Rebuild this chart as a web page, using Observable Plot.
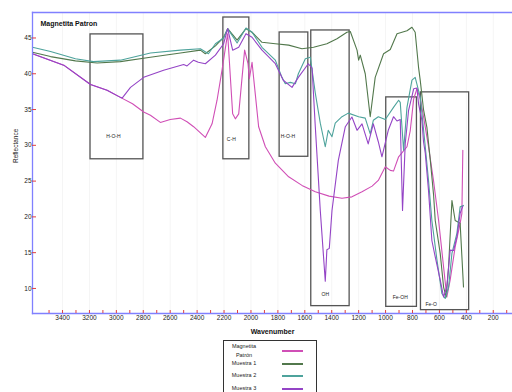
<!DOCTYPE html>
<html><head><meta charset="utf-8">
<script src="https://cdn.jsdelivr.net/npm/d3@7"></script>
<script src="https://cdn.jsdelivr.net/npm/@observablehq/plot@0.6"></script>
<style>
body{margin:0;background:#fff;font-family:"Liberation Sans",Arial,sans-serif;}
#wrap{position:relative;width:512px;height:392px;overflow:hidden;}
#legend{position:absolute;left:223px;top:340px;width:94px;height:62px;border:1.5px solid #333;box-sizing:border-box;font-size:5.5px;color:#222;background:#fff;}
#legend .lab{position:absolute;left:2px;width:36px;text-align:center;line-height:9px;}
#legend .sw{position:absolute;left:58px;width:21px;height:2px;}
</style></head><body><div id="wrap"></div>
<script>
// ---- data ----
const seriesNames = ["Magnetita Patrón", "Muestra 1", "Muestra 2", "Muestra 3"];
const seriesColors = ["#d04fb6", "#52784c", "#4ea39c", "#9444c6"];

const patron = [[3623,42.8],[3391,41.2],[3192,38.5],[3069,37.7],[2970,36.7],[2880,35.8],[2797,34.65],[2747,34.2],[2673,33.2],[2600,33.6],[2524,33.8],[2475,33.3],[2426,32.6],[2339,31.1],[2289,33.0],[2252,36.3],[2215,40.5],[2185,44.2],[2173,45.6],[2153,39.5],[2136,34.4],[2116,33.7],[2091,34.4],[2066,39.5],[2047,43.3],[2022,41.4],[2012,39.3],[1992,41.6],[1973,38.1],[1943,32.6],[1893,29.8],[1819,27.5],[1720,25.6],[1621,24.4],[1522,23.5],[1420,22.9],[1324,22.6],[1250,22.8],[1175,23.5],[1100,24.3],[1054,25.1],[1002,27.0],[965,26.5],[941,26.4],[903,28.4],[841,29.8],[817,32.0],[791,36.5],[767,37.9],[742,36.5],[718,34.0],[681,29.8],[644,25.1],[606,19.5],[569,13.0],[545,8.8],[520,11.2],[483,15.8],[446,19.1],[433,20.5],[426,29.3]];

const muestra1 = [[3623,43.0],[3489,42.4],[3304,41.8],[3143,41.5],[2970,41.7],[2747,42.3],[2524,42.9],[2376,43.3],[2339,42.8],[2264,43.9],[2203,45.1],[2173,46.3],[2103,44.7],[2037,46.3],[1992,45.8],[1918,44.4],[1819,44.2],[1720,44.0],[1621,43.5],[1535,43.7],[1436,44.2],[1361,44.9],[1287,45.8],[1262,45.9],[1212,43.3],[1200,41.9],[1188,42.6],[1151,40.0],[1114,34.0],[1077,39.5],[1015,42.8],[965,43.4],[915,45.6],[841,46.0],[804,46.5],[780,45.8],[755,40.9],[742,39.0],[718,35.0],[693,32.5],[668,28.0],[643,23.0],[631,19.5],[594,14.9],[569,10.2],[550,8.8],[532,13.0],[507,22.3],[483,19.5],[446,19.1],[421,10.2]];

const muestra2 = [[3623,43.7],[3489,43.1],[3304,42.1],[3170,41.7],[2970,41.9],[2747,42.9],[2524,43.3],[2376,43.5],[2316,42.8],[2264,44.2],[2203,45.0],[2173,46.3],[2103,44.3],[2037,46.4],[1992,45.8],[1918,43.7],[1819,41.9],[1770,39.5],[1745,38.6],[1708,38.8],[1670,38.6],[1648,40.0],[1596,42.1],[1559,42.3],[1522,37.3],[1485,33.1],[1448,29.8],[1426,32.1],[1398,31.2],[1374,33.1],[1324,34.0],[1277,34.5],[1200,34.0],[1151,33.8],[1114,31.6],[1091,33.5],[1054,34.0],[1002,33.6],[941,35.3],[903,36.3],[891,36.0],[866,29.3],[841,35.3],[804,39.1],[780,39.5],[742,36.7],[730,34.5],[705,29.8],[681,25.1],[656,19.5],[618,13.95],[582,9.3],[557,8.6],[532,10.2],[507,14.9],[470,17.7],[446,21.4],[421,21.6]];

const muestra3 = [[3623,42.8],[3391,41.2],[3192,38.5],[3069,37.7],[2970,36.7],[2957,36.6],[2895,38.1],[2797,39.5],[2649,40.5],[2500,41.3],[2475,41.1],[2426,41.9],[2391,41.6],[2339,41.4],[2264,42.6],[2203,44.2],[2173,46.3],[2136,43.3],[2091,43.7],[2037,45.6],[1992,45.1],[1918,43.3],[1819,41.4],[1760,39.1],[1695,38.1],[1648,39.5],[1574,41.4],[1546,40.8],[1522,32.6],[1485,20.9],[1448,11.0],[1436,15.4],[1418,15.6],[1398,20.9],[1351,27.9],[1299,32.6],[1250,33.95],[1212,32.1],[1175,33.0],[1129,30.2],[1091,33.0],[1054,30.5],[1027,28.4],[980,32.1],[941,34.0],[915,33.4],[891,33.6],[874,20.9],[854,30.2],[829,34.9],[791,37.9],[767,38.0],[755,35.8],[730,33.5],[718,30.5],[705,28.9],[681,23.7],[656,16.7],[631,14.4],[594,11.2],[569,8.8],[545,10.2],[520,15.35],[495,15.3],[470,17.2],[446,20.5],[426,21.5]];

const seriesData = [patron, muestra1, muestra2, muestra3];

// band annotation boxes (wavenumber / reflectance)
const boxNames  = ["H-O-H", "C-H", "H-O-H", "OH", "Fe-OH", "Fe-O"];
const boxWaveHi = [3192, 2205, 1787, 1552, 995, 737];
const boxWaveLo = [2799, 2012, 1574, 1267, 767, 379];
const boxReflHi = [45.5, 47.86, 45.77, 46.05, 36.7, 37.4];
const boxReflLo = [28.05, 28.05, 28.4, 7.53, 7.43, 6.97];
const boxLabelWave = [3022, 2146, 1725, 1448, 891, 661];
const boxLabelRefl = [31.26, 30.84, 31.26, 9.21, 8.79, 7.81];

const yTicks = [10, 15, 20, 25, 30, 35, 40, 45];
const xLabelTicks = [3400, 3200, 3000, 2800, 2600, 2400, 2200, 2000, 1800, 1600, 1400, 1200, 1000, 800, 600, 400, 200];
const xMinorTicks = [3500,3400,3300,3200,3100,3000,2900,2800,2700,2600,2500,2400,2300,2200,2100,2000,1900,1800,1700,1600,1500,1400,1300,1200,1100,1000,900,800,700,600,500,400,300,200,100];

const title = "Magnetita Patron";
const xTitle = "Wavenumber";
const yTitle = "Reflectance";

// ---- build tables ----
const rows = [];
seriesData.forEach((s, i) => s.forEach(([w, r]) => rows.push({series: seriesNames[i], wave: w, refl: r})));
const boxes = boxNames.map((n, i) => ({name: n, x1: boxWaveHi[i], x2: boxWaveLo[i], y1: boxReflLo[i], y2: boxReflHi[i], lx: boxLabelWave[i], ly: boxLabelRefl[i]}));

const red = "#e04040", blue = "#8080ff";
const chart = Plot.plot({
  width: 512, height: 336,
  marginLeft: 32, marginRight: 0, marginTop: 12, marginBottom: 23,
  style: {fontFamily: "'Liberation Sans', Arial, sans-serif", fontSize: "6.5px", background: "transparent", color: "#222"},
  x: {domain: [3623, 57]},
  y: {domain: [6.5, 48.56]},
  color: {domain: seriesNames, range: seriesColors},
  marks: [
    Plot.gridX(xLabelTicks, {stroke: "#000", strokeOpacity: 0.045}),
    Plot.rect(boxes, {x1: "x1", x2: "x2", y1: "y1", y2: "y2", fill: "none", stroke: "#555", strokeWidth: 1.3}),
    Plot.text(boxes, {x: "lx", y: "ly", text: "name", fontSize: 5, fill: "#222"}),
    Plot.line(rows, {x: "wave", y: "refl", z: "series", stroke: "series", strokeWidth: 1.1, curve: "linear"}),
    Plot.frame({anchor: "left", stroke: blue, strokeWidth: 1.3}),
    Plot.frame({anchor: "top", stroke: blue, strokeWidth: 1.3}),
    Plot.frame({anchor: "bottom", stroke: blue, strokeWidth: 1.3}),
    Plot.axisY({ticks: yTicks, anchor: "left", tickSize: -4, tickPadding: 5, stroke: red, label: null, fontSize: 6.5, fill: "#222"}),
    Plot.axisX({ticks: xMinorTicks, anchor: "bottom", tickSize: -3, stroke: red, text: null, label: null}),
    Plot.axisX({ticks: xLabelTicks, anchor: "bottom", tickSize: 0, tickPadding: 2, tickFormat: d => String(d), label: null, fontSize: 6.5, fill: "#222"}),
    Plot.text([title], {frameAnchor: "top-left", dx: 8, dy: 9, textAnchor: "start", fontSize: 7, fill: "#111", fontWeight: "bold"}),
    Plot.text([yTitle], {frameAnchor: "left", dx: -17, rotate: -90, fontSize: 6.5, fill: "#222"}),
    Plot.text([xTitle], {frameAnchor: "bottom", dy: 20, fontSize: 7, fill: "#111", fontWeight: "bold"})
  ]
});
const wrap = document.getElementById("wrap");
wrap.appendChild(chart);

// legend
const legend = document.createElement("div");
legend.id = "legend";
const tops = [9, 22, 34, 47];
seriesNames.forEach((n, i) => {
  const lab = document.createElement("div");
  lab.className = "lab";
  const parts = i === 0 ? n.split(" ") : [n];
  lab.innerHTML = parts.join("<br>");
  lab.style.top = Math.round(tops[i] - parts.length * 4.5 + 0.5) + "px";
  legend.appendChild(lab);
  const sw = document.createElement("div");
  sw.className = "sw";
  sw.style.background = seriesColors[i];
  sw.style.top = tops[i] + "px";
  legend.appendChild(sw);
});
wrap.appendChild(legend);
</script></body></html>
